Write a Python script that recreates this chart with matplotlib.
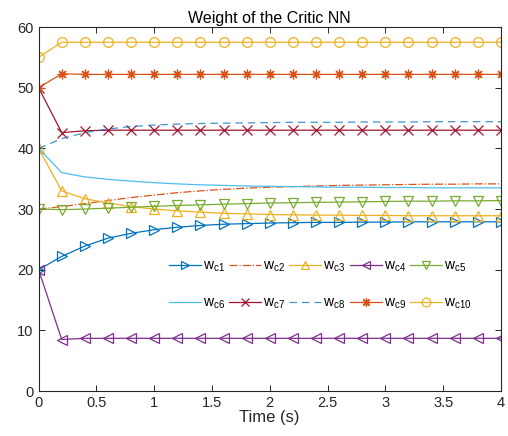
import numpy as np
import matplotlib
matplotlib.use('Agg')
import matplotlib.pyplot as plt

# 时间轴（采样间隔 0.2 s）
time = np.linspace(0, 4, 21)

# 评价网络各权值的收敛过程
wc1 = [20, 22.2, 23.9, 25.2, 26.0, 26.6, 27.0, 27.3, 27.5, 27.6, 27.7,
       27.75, 27.8, 27.8, 27.85, 27.85, 27.9, 27.9, 27.9, 27.9, 27.9]
wc2 = [30, 30.4, 30.9, 31.4, 31.9, 32.3, 32.7, 33.0, 33.25, 33.45, 33.6,
       33.7, 33.8, 33.9, 33.95, 34.0, 34.05, 34.1, 34.1, 34.15, 34.15]
wc3 = [40, 33.0, 31.7, 31.0, 30.4, 30.0, 29.7, 29.5, 29.3, 29.2, 29.1,
       29.05, 29.0, 29.0, 28.95, 28.95, 28.9, 28.9, 28.9, 28.9, 28.9]
wc4 = [20, 8.5, 8.7, 8.7, 8.7, 8.7, 8.7, 8.7, 8.7, 8.7, 8.7,
       8.7, 8.7, 8.7, 8.7, 8.7, 8.7, 8.7, 8.7, 8.7, 8.7]
wc5 = [30, 29.9, 30.0, 30.15, 30.3, 30.45, 30.6, 30.7, 30.8, 30.9, 31.0,
       31.05, 31.1, 31.15, 31.2, 31.25, 31.3, 31.3, 31.35, 31.35, 31.4]
wc6 = [40, 36.0, 35.3, 34.9, 34.6, 34.35, 34.15, 34.0, 33.9, 33.8, 33.75,
       33.7, 33.65, 33.6, 33.6, 33.55, 33.55, 33.5, 33.5, 33.5, 33.5]
wc7 = [50, 42.6, 42.9, 43.0, 43.0, 43.0, 43.0, 43.0, 43.0, 43.0, 43.0,
       43.0, 43.0, 43.0, 43.0, 43.0, 43.0, 43.0, 43.0, 43.0, 43.0]
wc8 = [40, 41.6, 42.6, 43.2, 43.6, 43.85, 44.0, 44.1, 44.15, 44.2, 44.25,
       44.3, 44.3, 44.3, 44.35, 44.35, 44.35, 44.4, 44.4, 44.4, 44.4]
wc9 = [50, 52.3, 52.2, 52.2, 52.2, 52.2, 52.2, 52.2, 52.2, 52.2, 52.2,
       52.2, 52.2, 52.2, 52.2, 52.2, 52.2, 52.2, 52.2, 52.2, 52.2]
wc10 = [55, 57.5, 57.5, 57.5, 57.5, 57.5, 57.5, 57.5, 57.5, 57.5, 57.5,
        57.5, 57.5, 57.5, 57.5, 57.5, 57.5, 57.5, 57.5, 57.5, 57.5]

labels = [r'w$_{\mathregular{c%d}}$' % i for i in range(1, 11)]

plt.rcParams['font.family'] = ['Liberation Sans', 'DejaVu Sans']
plt.rcParams['mathtext.fontset'] = 'custom'
plt.rcParams['mathtext.rm'] = 'Liberation Sans'

fig = plt.figure(figsize=(5.08, 4.36), dpi=100)
ax = fig.add_axes([0.076, 0.103, 0.910, 0.835])

blue, orange, yellow = '#0072BD', '#D95319', '#EDB120'
purple, green, cyan, red = '#7E2F8E', '#77AC30', '#4DBEEE', '#A2142F'

lw = 0.9
style = dict(lw=lw, ms=7, mfc='none', mew=0.9)
h = []
h += ax.plot(time, wc1, color=blue, marker='>', label=labels[0], **style)
h += ax.plot(time, wc2, color=orange, ls='-.', lw=lw, label=labels[1])
h += ax.plot(time, wc3, color=yellow, marker='^', label=labels[2], **style)
h += ax.plot(time, wc4, color=purple, marker='<', label=labels[3], **style)
h += ax.plot(time, wc5, color=green, marker='v', label=labels[4], **style)
h += ax.plot(time, wc6, color=cyan, lw=lw, label=labels[5])
h += ax.plot(time, wc7, color=red, marker='x', label=labels[6], **style)
h += ax.plot(time, wc8, color=blue, ls=(0, (6, 4)), lw=lw, alpha=0.75, label=labels[7])
h += ax.plot(time, wc9, color=orange, marker=(8, 2, 0), label=labels[8], **style)
h += ax.plot(time, wc10, color=yellow, marker='o', label=labels[9], **style)

ax.set_xlim(0, 4)
ax.set_ylim(0, 60)
ax.set_xticks(np.arange(0, 4.01, 0.5))
ax.set_xticklabels(['0', '0.5', '1', '1.5', '2', '2.5', '3', '3.5', '4'])
ax.set_yticks(np.arange(0, 61, 10))
ax.tick_params(direction='in', top=True, right=True, labelsize=10.5,
               colors='#262626', length=4, width=0.7)
for sp in ax.spines.values():
    sp.set_color('#262626')
    sp.set_linewidth(0.8)

ax.set_title('Weight of the Critic NN', fontsize=11.5, color='#000000', pad=3)
ax.set_xlabel('Time (s)', fontsize=12, color='#262626', labelpad=0)

# 图例按行排列：两行五列
order = [0, 5, 1, 6, 2, 7, 3, 8, 4, 9]
ax.legend([h[i] for i in order], [labels[i] for i in order],
          ncol=5, frameon=False, fontsize=10, loc='upper left',
          bbox_to_anchor=(0.27, 0.378), handlelength=2.3, handletextpad=0.15,
          columnspacing=0.3, labelspacing=1.55, borderaxespad=0,
          markerscale=0.9)

fig.savefig('out.png', dpi=100)
